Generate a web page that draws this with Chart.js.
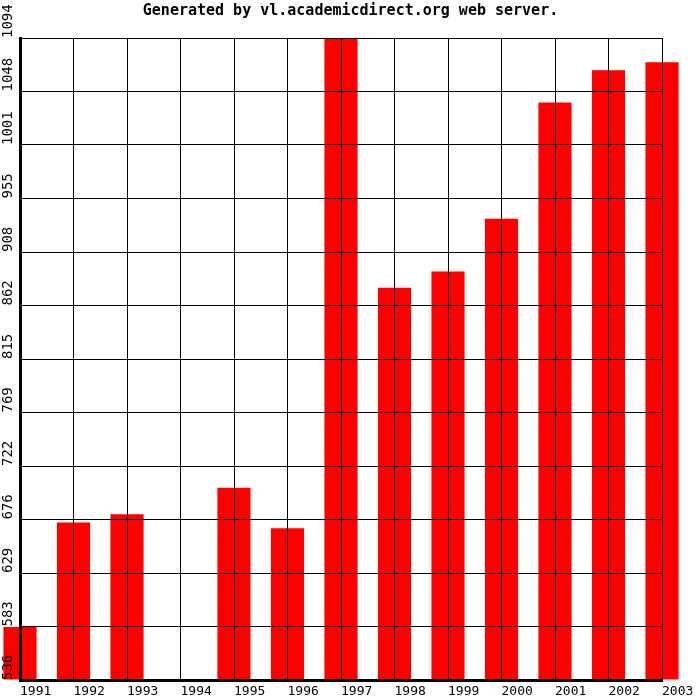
<!DOCTYPE html>
<html>
<head>
<meta charset="utf-8">
<script src="https://cdn.jsdelivr.net/npm/chart.js@4/dist/chart.umd.min.js"></script>
<style>
  html, body { margin: 0; padding: 0; background: #fff; }
  #wrap { width: 700px; height: 700px; }
</style>
</head>
<body>
<div id="wrap"><canvas id="chart" width="700" height="700"></canvas></div>
<script>
const years = ["1991", "1992", "1993", "1994", "1995", "1996", "1997", "1998", "1999", "2000", "2001", "2002", "2003"];
const counts = [582, 673, 680, 536, 703, 668, 1094, 877, 891, 937, 1038, 1066, 1073];
const yTickLabels = ["536", "583", "629", "676", "722", "769", "815", "862", "908", "955", "1001", "1048", "1094"];
const yMin = 536;
const yMax = 1094;
const yStep = 46.5;

const mono = "'DejaVu Sans Mono', 'Liberation Mono', monospace";

new Chart(document.getElementById("chart"), {
    type: "bar",
    data: {
        labels: years,
        datasets: [{
            data: counts,
            base: yMin,
            backgroundColor: "#ff0000",
            borderWidth: 0,
            barPercentage: 0.62,
            categoryPercentage: 1,
            clip: false
        }]
    },
    options: {
        responsive: false,
        animation: false,
        layout: { padding: { left: 1, right: 0, top: 0, bottom: 0 } },
        plugins: {
            legend: { display: false },
            tooltip: { enabled: false },
            title: {
                display: true,
                text: "Generated by vl.academicdirect.org web server.",
                color: "#000",
                font: { family: mono, size: 15, weight: "bold" },
                padding: { top: 2, bottom: 18 }
            }
        },
        scales: {
            x: {
                offset: false,
                grid: { color: "#000", lineWidth: 1, offset: false, drawTicks: false, z: 1 },
                border: { color: "#000", width: 3, z: 1 },
                ticks: {
                    z: 1,
                    color: "#000",
                    font: { family: mono, size: 13 },
                    align: "start",
                    maxRotation: 0,
                    minRotation: 0,
                    padding: 4,
                    autoSkip: false
                },
                afterFit: (scale) => {
                    scale.height = 20;
                    scale.paddingRight = 38;
                }
            },
            y: {
                min: yMin,
                max: yMax,
                grid: { color: "#000", lineWidth: 1, drawTicks: false, z: 1 },
                border: { color: "#000", width: 3, z: 1 },
                ticks: {
                    z: 1,
                    stepSize: yStep,
                    color: "#000",
                    font: { family: mono, size: 14 },
                    minRotation: 90,
                    maxRotation: 90,
                    crossAlign: "far",
                    align: "start",
                    autoSkip: false,
                    callback: (v, i) => yTickLabels[i]
                },
                afterFit: (scale) => { scale.width = 19; }
            }
        }
    }
});
</script>
</body>
</html>
